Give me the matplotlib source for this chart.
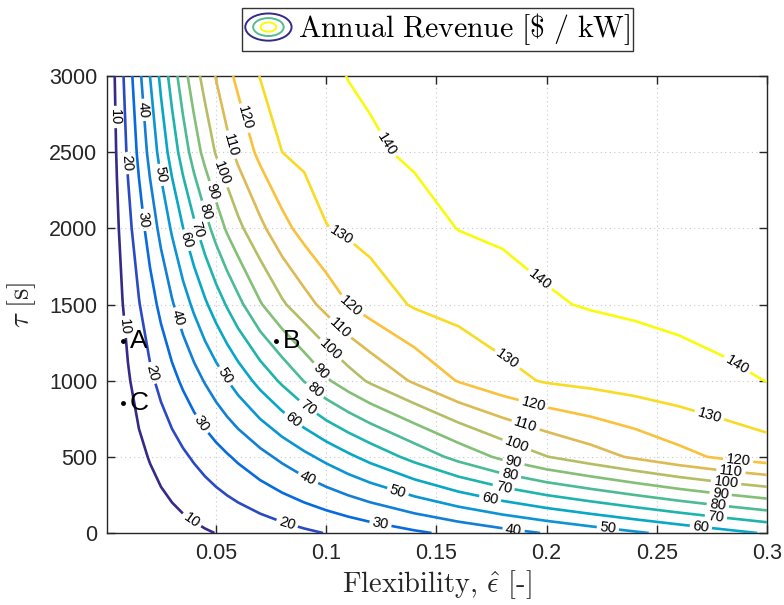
import numpy as np
import matplotlib
matplotlib.use("Agg")
import matplotlib.pyplot as plt
from matplotlib.colors import LinearSegmentedColormap, Normalize
from matplotlib.legend_handler import HandlerBase
from matplotlib.patches import Ellipse
from matplotlib.lines import Line2D

plt.rcParams['mathtext.fontset'] = 'cm'
plt.rcParams['font.family'] = ['Liberation Sans', 'DejaVu Sans']

# ---------------- data ----------------
flexibility = [0.0005, 0.0025, 0.005, 0.0075, 0.01, 0.015, 0.02, 0.025, 0.03, 0.035,
               0.04, 0.045, 0.05, 0.055, 0.06, 0.07, 0.08, 0.09, 0.1, 0.11,
               0.12, 0.14, 0.16, 0.18, 0.2, 0.22, 0.24, 0.26, 0.28, 0.3]
tau = [0, 500, 1000, 1500, 2000, 2500, 3000]

rev_tau0 = [0.10, 0.51, 1.02, 1.52, 2.03, 3.05, 4.06, 5.08, 6.09, 7.11,
            8.12, 9.14, 10.15, 11.17, 12.18, 14.21, 16.24, 18.27, 20.3, 22.33,
            24.36, 28.42, 32.48, 36.54, 40.6, 44.66, 48.72, 52.78, 56.84, 60.9]
rev_tau500 = [0.26, 1.32, 2.64, 3.96, 5.28, 7.92, 10.56, 13.2, 15.84, 18.48,
              21.12, 23.76, 26.4, 29.04, 31.68, 36.96, 42.24, 47.52, 52.8, 58.08,
              63.2, 73.26, 83.16, 92.17, 99.71, 105.65, 111.43, 116.99, 121.67, 125.31]
rev_tau1000 = [0.45, 2.26, 4.53, 6.79, 9.05, 13.58, 18.1, 22.63, 27.15, 31.68,
               36.2, 40.73, 45.25, 49.78, 54.3, 63.19, 71.81, 80.41, 88.64, 95.39,
               101.45, 111.42, 120.62, 126.87, 130.94, 132.82, 134.71, 136.6, 138.48, 140.12]
rev_tau1500 = [0.65, 3.25, 6.5, 9.75, 13.0, 19.5, 26.0, 32.5, 39.0, 45.5,
               52.0, 58.5, 64.76, 70.95, 77.14, 89.09, 98.57, 106.12, 113.16, 120.0,
               124.49, 131.04, 133.75, 136.46, 139.17, 140.59, 141.45, 142.31, 143.17, 144.03]
rev_tau2000 = [0.86, 4.28, 8.55, 12.83, 17.1, 25.65, 34.2, 42.75, 51.3, 59.85,
               68.0, 76.14, 84.09, 91.46, 97.57, 107.62, 116.73, 123.76, 129.66, 131.68,
               133.46, 137.02, 140.18, 141.31, 142.44, 143.57, 144.7, 145.83, 146.24, 146.52]
rev_tau2500 = [1.08, 5.38, 10.75, 16.13, 21.5, 32.25, 43.0, 53.75, 64.28, 74.52,
               84.55, 93.39, 100.83, 106.81, 112.63, 122.59, 130.0, 132.24, 134.48, 136.72,
               138.96, 141.09, 142.51, 143.93, 145.35, 146.19, 146.55, 146.91, 147.27, 147.62]
rev_tau3000 = [1.25, 6.25, 12.5, 18.75, 25.0, 37.5, 50.0, 62.38, 74.28, 85.91,
               95.71, 103.61, 110.53, 117.1, 122.42, 130.31, 132.92, 135.52, 138.13, 140.23,
               141.06, 142.71, 144.36, 146.0, 146.42, 146.83, 147.25, 147.67, 148.08, 148.5]

levels = [10, 20, 30, 40, 50, 60, 70, 80, 90, 100, 110, 120, 130, 140]

point_names = ['A', 'B', 'C']
point_eps = [0.0077, 0.0773, 0.0077]
point_tau = [1260, 1260, 853]

xticks = [0.05, 0.1, 0.15, 0.2, 0.25, 0.3]
xticklabels = ['0.05', '0.1', '0.15', '0.2', '0.25', '0.3']
yticks = [0, 500, 1000, 1500, 2000, 2500, 3000]
yticklabels = ['0', '500', '1000', '1500', '2000', '2500', '3000']

# ---------------- layout / style ----------------
label_pos = {
    10: [(0.0041, 2731), (0.0077, 1352), (0.039, 85)],
    20: [(0.0100, 2429), (0.0209, 1050), (0.0823, 66)],
    30: [(0.0168, 2055), (0.0427, 709), (0.1245, 52)],
    40: [(0.0164, 2777), (0.0327, 1411), (0.0918, 361), (0.185, 20)],
    50: [(0.0245, 2350), (0.0527, 1018), (0.1327, 282), (0.2277, 20)],
    60: [(0.0368, 1923), (0.085, 742), (0.1745, 236), (0.27, 39)],
    70: [(0.0405, 1989), (0.0914, 821), (0.1805, 302), (0.2768, 105)],
    80: [(0.0441, 2107), (0.095, 939), (0.1836, 394), (0.2777, 184)],
    90: [(0.0482, 2239), (0.0982, 1070), (0.185, 466), (0.279, 263)],
    100: [(0.0527, 2363), (0.1018, 1201), (0.1868, 591), (0.2814, 328)],
    110: [(0.0564, 2547), (0.1055, 1333), (0.1905, 709), (0.2836, 400)],
    120: [(0.0632, 2724), (0.111, 1484), (0.194, 847), (0.2868, 466)],
    130: [(0.1055, 1923), (0.181, 1116), (0.2736, 761)],
    140: [(0.1268, 2547), (0.195, 1628), (0.285, 1070)],
}

parula_anchors = [
    (0.2081, 0.1663, 0.5292), (0.1959, 0.2645, 0.7279), (0.0591, 0.3598, 0.8683),
    (0.0117, 0.3875, 0.8820), (0.0498, 0.4586, 0.8641), (0.0793, 0.5200, 0.8312),
    (0.0343, 0.5966, 0.8199), (0.0228, 0.6535, 0.7768), (0.0843, 0.6928, 0.7062),
    (0.2178, 0.7250, 0.6193), (0.3953, 0.7459, 0.5244), (0.5709, 0.7485, 0.4494),
    (0.7184, 0.7411, 0.3905), (0.8507, 0.7299, 0.3360), (0.9739, 0.7314, 0.2666),
    (0.9880, 0.8066, 0.1794), (0.9589, 0.8949, 0.1132), (0.9763, 0.9831, 0.0538)]
anchor_pos = [0, 4/63, 7/63, 8/63, 12/63, 16/63, 20/63, 24/63, 28/63, 32/63, 36/63,
              40/63, 44/63, 48/63, 52/63, 56/63, 60/63, 1.0]
parula = LinearSegmentedColormap.from_list('parula', list(zip(anchor_pos, parula_anchors)))
norm = Normalize(vmin=10, vmax=140)

DARK = '#262626'

fig = plt.figure(figsize=(7.84, 6.05), dpi=100)
ax = fig.add_axes([107/784, 1 - 533/605, 660/784, 457/605])

X, Y = np.meshgrid(flexibility, tau)
Z = np.array([rev_tau0, rev_tau500, rev_tau1000, rev_tau1500,
              rev_tau2000, rev_tau2500, rev_tau3000])

for lv in levels:
    cs = ax.contour(X, Y, Z, levels=[lv], colors=[parula(norm(lv))],
                    linewidths=1.9, zorder=3)
    ax.clabel(cs, manual=label_pos[lv], inline=True, inline_spacing=3,
              fontsize=10.5, colors='k', fmt='%d')

ax.plot(point_eps, point_tau, 'k.', markersize=5, zorder=5)
for n, xe, yt in zip(point_names, point_eps, point_tau):
    ax.annotate(n, (xe, yt), xytext=(5, 0), textcoords='offset points',
                fontsize=19, ha='left', va='center', color='k', zorder=6)

ax.set_xlim(0.0005, 0.3)
ax.set_ylim(0, 3000)
ax.set_xticks(xticks)
ax.set_xticklabels(xticklabels)
ax.set_yticks(yticks)
ax.set_yticklabels(yticklabels)
ax.tick_params(direction='in', top=True, right=True, length=6, width=1,
               labelsize=15.5, colors=DARK, pad=7)
for s in ax.spines.values():
    s.set_color(DARK)
    s.set_linewidth(1.0)
ax.set_axisbelow(True)
ax.grid(True, linestyle=(0, (1, 3)), color='#c8c8c8', linewidth=0.8)

ax.set_xlabel(r'Flexibility, $\hat{\epsilon}$ [-]', fontsize=20.5, color=DARK,
              fontfamily='cmr10')
ax.xaxis.set_label_coords(0.5, -0.078)
ax.set_ylabel(r'$\tau\ [\mathrm{s}]$', fontsize=20.5, color=DARK)
ax.yaxis.set_label_coords(-0.104, 0.5)


class ContourIcon(HandlerBase):
    def create_artists(self, legend, orig_handle, xdescent, ydescent, width,
                       height, fontsize, trans):
        cx = width / 2 - xdescent
        cy = height / 2 - ydescent
        arts = []
        for frac, col in [(1.0, parula(0.0)), (0.66, parula(0.55)), (0.34, parula(1.0))]:
            e = Ellipse((cx, cy), width * frac, height * 1.3 * frac, fill=False,
                        edgecolor=col, lw=1.4, transform=trans)
            arts.append(e)
        return arts


proxy = Line2D([], [])
leg = fig.legend(handles=[proxy], labels=[r'$\mathrm{Annual\ Revenue\ [\$\ /\ kW]}$'],
                 handler_map={proxy: ContourIcon()}, loc='upper center',
                 bbox_to_anchor=(437.5/784, 1 - 8/605), bbox_transform=fig.transFigure,
                 fontsize=21.5, frameon=True, fancybox=False, edgecolor='k',
                 borderpad=0.12, handlelength=1.55, handletextpad=0.2, borderaxespad=0)
leg.get_frame().set_linewidth(1.0)

fig.savefig('out.png', dpi=100)
